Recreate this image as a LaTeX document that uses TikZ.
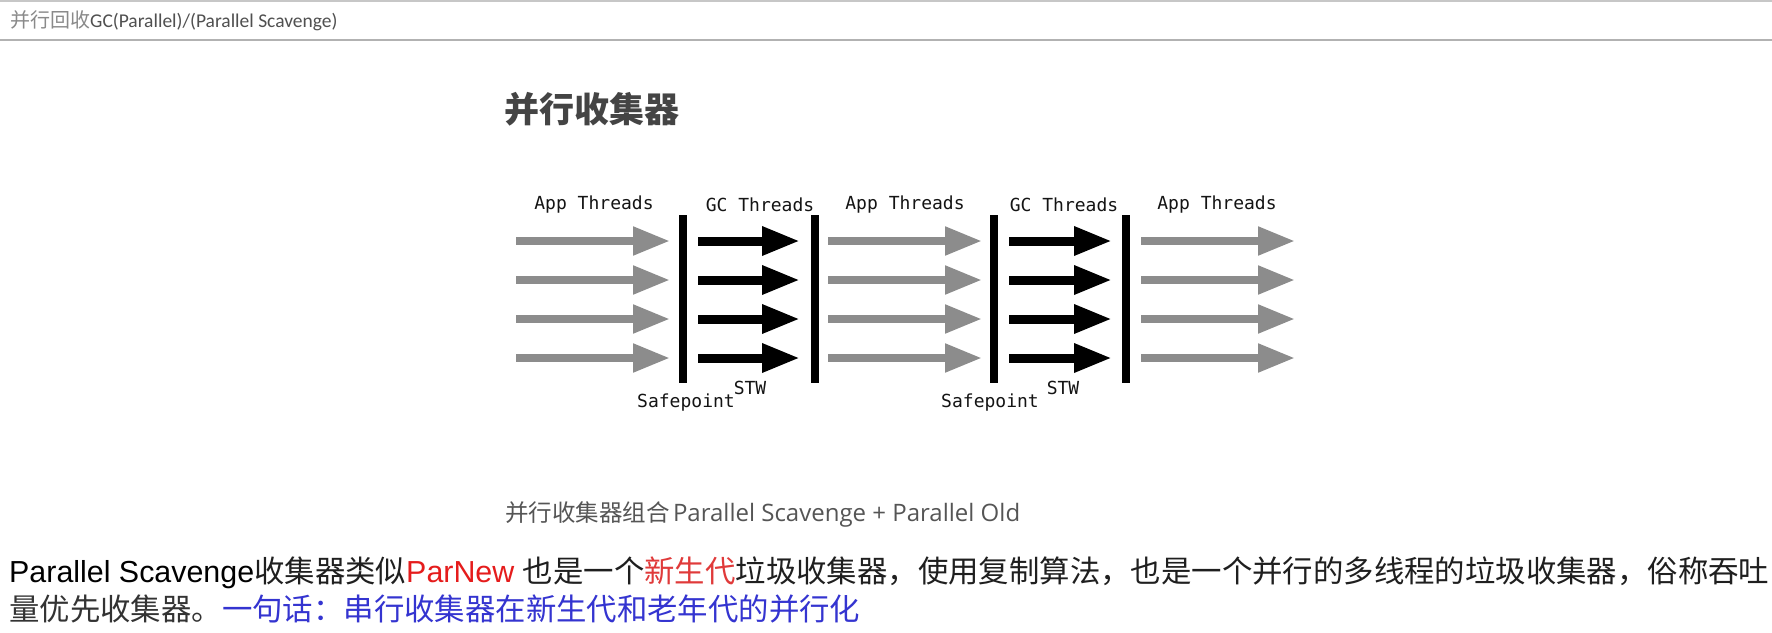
\documentclass[tikz,border=0pt]{standalone}
\usepackage{fontspec}
\usetikzlibrary{arrows.meta}
\newfontfamily\cjk{Noto Sans CJK SC}
\newfontfamily\monof{DejaVu Sans Mono}
\newfontfamily\arialf{Liberation Sans}
\newfontfamily\carlitof{Carlito}
\newfontfamily\opensf{Open Sans}
\definecolor{arrgray}{HTML}{8C8C8C}
\definecolor{titlegray}{HTML}{444444}
\definecolor{capgray}{HTML}{555555}
\definecolor{hdrgray}{HTML}{8A8A8A}
\definecolor{hdrgray2}{HTML}{505050}
\definecolor{txtred}{HTML}{E51C1C}
\definecolor{txtred2}{HTML}{E03A3A}
\definecolor{txtblue}{HTML}{3434D0}
\begin{document}
\begin{tikzpicture}[x=1pt,y=-1pt,
  apparrow/.style={line width=8pt, draw=arrgray, -{Triangle[length=37pt,width=27pt]}},
  gcarrow/.style={line width=9pt, draw=black, -{Triangle[length=38pt,width=27pt]}},
  barline/.style={line width=8pt, draw=black},
  lbl/.style={font=\monof\fontsize{18}{20}\selectfont, text=black!92, inner sep=0pt},
  plain/.style={inner sep=0pt, anchor=west}]
\useasboundingbox[fill=white] (0,0) rectangle (1772,632);
% header
\coordinate (hl1) at (0,1); \coordinate (hr1) at (1772,1);
\coordinate (hl2) at (0,40); \coordinate (hr2) at (1772,40);
\draw[line width=1.5pt, black!22] (hl1) -- (hr1);
\draw[line width=2pt, black!30] (hl2) -- (hr2);
\node[plain] (hdr) at (10,21) {{\cjk\fontsize{20}{22}\selectfont\color{hdrgray}并行回收}{\carlitof\fontsize{19.5}{22}\selectfont\color{hdrgray2}GC(Parallel)/(Parallel Scavenge)}};
% title
\node[plain, font=\cjk\bfseries\fontsize{35}{38}\selectfont, text=titlegray] (title) at (504,109) {并行收集器};
% arrows
\foreach \i in {0,...,3} {
  \pgfmathsetmacro\yy{241+39*\i}
  \coordinate (as1\i) at (516,\yy);  \coordinate (ae1\i) at (670,\yy);
  \coordinate (gs1\i) at (698,\yy);  \coordinate (ge1\i) at (800,\yy);
  \coordinate (as2\i) at (828,\yy);  \coordinate (ae2\i) at (982,\yy);
  \coordinate (gs2\i) at (1009,\yy); \coordinate (ge2\i) at (1112,\yy);
  \coordinate (as3\i) at (1141,\yy); \coordinate (ae3\i) at (1295,\yy);
  \draw[apparrow] (as1\i) -- (ae1\i);
  \draw[gcarrow] (gs1\i) -- (ge1\i);
  \draw[apparrow] (as2\i) -- (ae2\i);
  \draw[gcarrow] (gs2\i) -- (ge2\i);
  \draw[apparrow] (as3\i) -- (ae3\i);
}
% bars
\foreach \n/\x in {1/683,2/815,3/994,4/1126} {
  \coordinate (bt\n) at (\x,215); \coordinate (bb\n) at (\x,383);
  \draw[barline] (bt\n) -- (bb\n);
}
% labels
\node[lbl] (app1) at (594,205) {App Threads};
\node[lbl] (gc1) at (760,205) {GC Threads};
\node[lbl] (app2) at (905,205) {App Threads};
\node[lbl] (gc2) at (1064,205) {GC Threads};
\node[lbl] (app3) at (1217,205) {App Threads};
\node[lbl] (stw1) at (750,388) {STW};
\node[lbl] (stw2) at (1063,388) {STW};
\node[lbl] (sp1) at (686,403) {Safepoint};
\node[lbl] (sp2) at (990,403) {Safepoint};
% caption
\node[plain, text=capgray] (cap) at (505,514) {{\cjk\fontsize{23.5}{26}\selectfont 并行收集器组合} {\opensf\fontsize{24}{28}\selectfont Parallel Scavenge + Parallel Old}};
% body text
\node[plain] (line1) at (9,573) {{\arialf\fontsize{30.4}{34}\selectfont\color{black} Parallel Scavenge}{\cjk\fontsize{30.4}{34}\selectfont\color{black!88}收集器类似}{\arialf\fontsize{30.4}{34}\selectfont\color{txtred}ParNew }{\cjk\fontsize{30.4}{34}\selectfont\color{black!88}也是一个}{\cjk\fontsize{30.4}{34}\selectfont\color{txtred2}新生代}{\cjk\fontsize{30.4}{34}\selectfont\color{black!88}垃圾收集器，使用复制算法，也是一个并行的多线程的垃圾收集器，俗称吞吐}};
\node[plain] (line2) at (9,609) {{\cjk\fontsize{30.4}{34}\selectfont\color{black!80}量优先收集器。}{\cjk\fontsize{30.4}{34}\selectfont\color{txtblue}一句话：串行收集器在新生代和老年代的并行化}};
\end{tikzpicture}
\end{document}
